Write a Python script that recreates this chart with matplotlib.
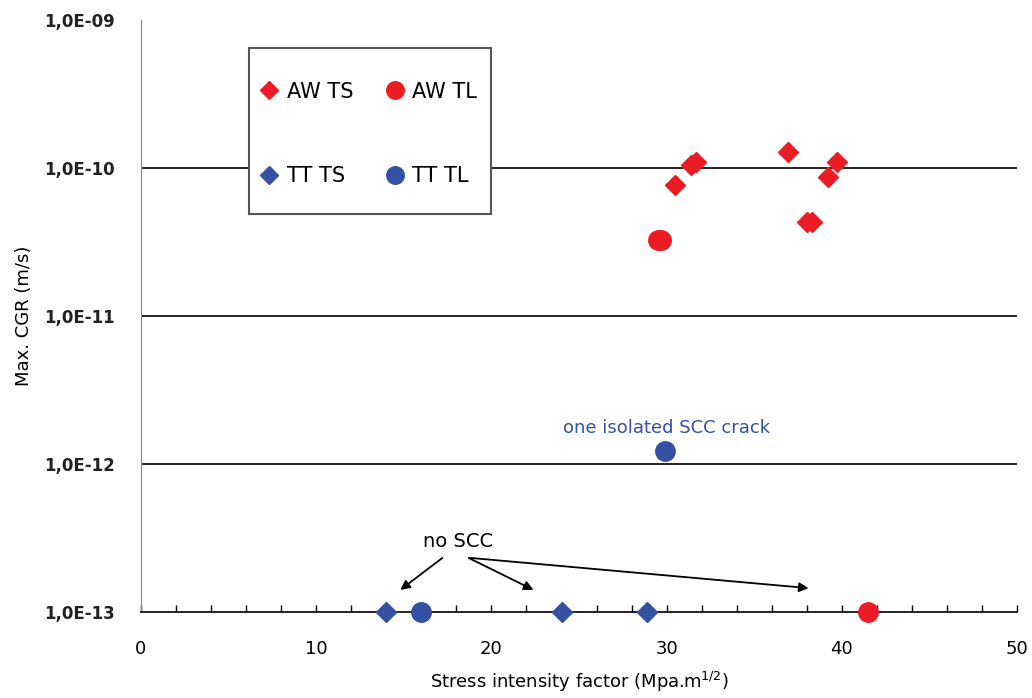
from matplotlib import pyplot as plt
from matplotlib.patches import Rectangle
import numpy as np

# values
aw_ts_x = [30.5, 31.4, 31.7, 36.9, 38.0, 38.3, 39.2, 39.7]
aw_ts_y = [7.7e-11, 1.05e-10, 1.1e-10, 1.29e-10, 4.3e-11, 4.3e-11, 8.7e-11, 1.1e-10]
aw_tl_x = [29.5, 29.7, 41.5]
aw_tl_y = [3.27e-11, 3.27e-11, 1e-13]
tt_ts_x = [14.0, 24.0, 28.9]
tt_ts_y = [1e-13, 1e-13, 1e-13]
tt_tl_x = [16.0, 29.9]
tt_tl_y = [1e-13, 1.22e-12]

y_ticks = [1e-13, 1e-12, 1e-11, 1e-10, 1e-9]
y_labels = ["1,0E-13", "1,0E-12", "1,0E-11", "1,0E-10", "1,0E-09"]
x_ticks = [0, 10, 20, 30, 40, 50]

red = '#ec1c24'
blue = '#3350a2'

plt.rcParams['font.family'] = 'DejaVu Sans'

fig = plt.figure(figsize=(10.32, 6.98), dpi=100)
ax = fig.add_axes([0.1366, 0.1232, 0.849, 0.8481])

ax.set_yscale('log')
ax.set_xlim(0, 50)
ax.set_ylim(1e-13, 1e-9)

# horizontal grid at each decade
for yv in y_ticks[1:4]:
  ax.axhline(yv, color='black', lw=1.2, zorder=1)

ax.plot(aw_ts_x, aw_ts_y, 'D', color=red, ms=10, mec=red, ls='none', label='AW TS', clip_on=False, zorder=3)
ax.plot(tt_ts_x, tt_ts_y, 'D', color=blue, ms=10, mec=blue, ls='none', label='TT TS', clip_on=False, zorder=3)
ax.plot(aw_tl_x, aw_tl_y, 'o', color=red, ms=14, mec=red, ls='none', label='AW TL', clip_on=False, zorder=3)
ax.plot(tt_tl_x, tt_tl_y, 'o', color=blue, ms=14, mec=blue, ls='none', label='TT TL', clip_on=False, zorder=3)

# legend box drawn separately so the padding can differ in x and y
box = Rectangle((0.1233, 0.6723), 0.2762, 0.2804, transform=ax.transAxes,
                facecolor='white', edgecolor='#555555', lw=1.5, zorder=4)
ax.add_patch(box)
leg = ax.legend(ncol=2, loc='center', bbox_to_anchor=(0.2614, 0.8074), fontsize=15,
                frameon=False, markerscale=0.9, handlelength=0.6, handletextpad=0.55,
                columnspacing=1.7, labelspacing=3.1, borderpad=0, borderaxespad=0)
leg.set_zorder(5)

ax.text(30.0, 1.75e-12, 'one isolated SCC crack', color=blue, fontsize=13, ha='center', va='center')
ax.text(18.1, 3.0e-13, 'no SCC', color='black', fontsize=14, ha='center', va='center')
arrow = dict(arrowstyle='-|>', color='black', lw=1.3, mutation_scale=14, shrinkA=0, shrinkB=0)
ax.annotate('', xy=(14.8, 1.41e-13), xytext=(17.2, 2.32e-13), arrowprops=arrow)
ax.annotate('', xy=(22.4, 1.41e-13), xytext=(18.7, 2.32e-13), arrowprops=arrow)
ax.annotate('', xy=(38.1, 1.45e-13), xytext=(18.8, 2.32e-13), arrowprops=arrow)

ax.set_yticks(y_ticks)
ax.set_yticklabels(y_labels, fontsize=12, fontweight='bold', color='#222222')
ax.yaxis.set_minor_locator(plt.NullLocator())
ax.tick_params(axis='y', length=0, pad=19)

ax.set_xticks(x_ticks)
ax.set_xticks(np.arange(0, 51, 2), minor=True)
ax.set_xticklabels([str(v) for v in x_ticks], fontsize=13)
ax.tick_params(axis='x', which='both', direction='in', length=5, width=1, pad=20)

for side in ['top', 'right']:
  ax.spines[side].set_visible(False)
ax.spines['left'].set_color('#888888')
ax.spines['bottom'].set_linewidth(1.2)

ax.set_xlabel('Stress intensity factor (Mpa.m$^{1/2}$)', fontsize=13, labelpad=9)
ax.set_ylabel('Max. CGR (m/s)', fontsize=13, labelpad=8)

plt.savefig('out.png', dpi=100)
